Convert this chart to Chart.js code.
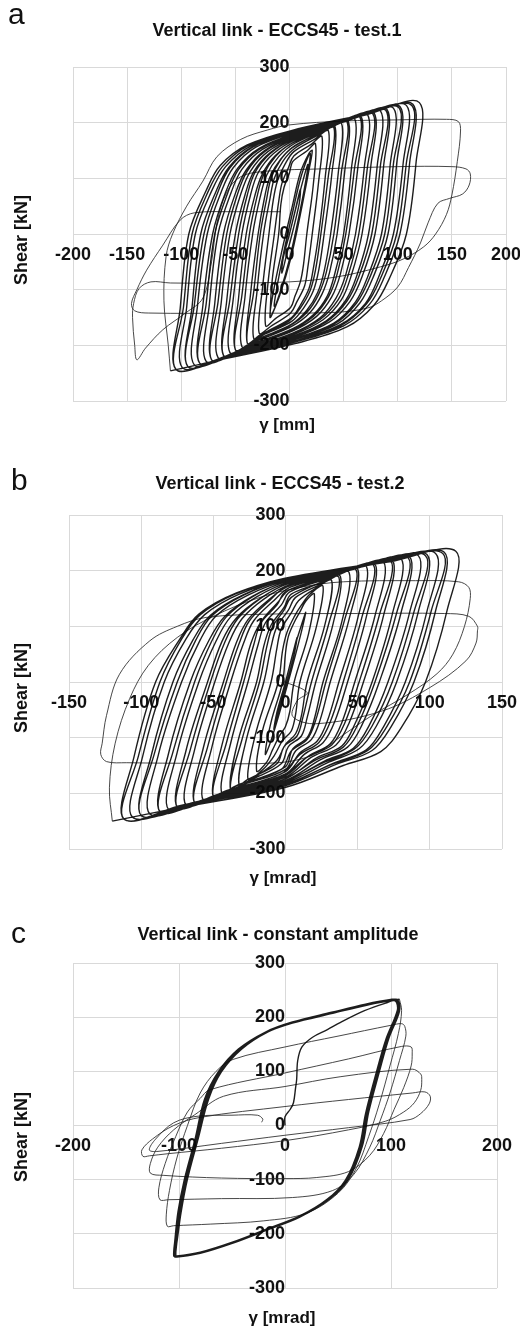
<!DOCTYPE html>
<html>
<head>
<meta charset="utf-8">
<script src="https://cdn.jsdelivr.net/npm/chart.js@4.4.1/dist/chart.umd.min.js"></script>
<style>
  body { margin: 0; background: #fff; width: 520px; height: 1330px; position: relative; overflow: hidden;
         font-family: "Liberation Sans", Arial, sans-serif; color: #111; }
  .panel { position: absolute; left: 0; width: 540px; }
  .panel canvas { position: absolute; left: 0; top: 0; }
  .letter { position: absolute; font-size: 30px; line-height: 1; }
  .lbl { position: absolute; font-weight: bold; line-height: 1; white-space: nowrap; transform: translate(-50%, -50%); }
  .title { font-size: 18px; }
  .xt { font-size: 17px; }
  .yt { font-size: 18px; transform: translate(-50%, -50%) rotate(-90deg); }
</style>
</head>
<body>
<div class="panel" style="top:0;height:440px"><canvas id="chartA" width="540" height="440"></canvas></div>
<div class="panel" style="top:440px;height:440px"><canvas id="chartB" width="540" height="440"></canvas></div>
<div class="panel" style="top:880px;height:450px"><canvas id="chartC" width="540" height="450"></canvas></div>

<div class="letter" style="left:8px;top:-1px">a</div>
<div class="lbl title" style="left:277px;top:30px">Vertical link - ECCS45 - test.1</div>
<div class="lbl yt" style="left:21px;top:240px">Shear [kN]</div>
<div class="lbl xt" style="left:287px;top:424px">γ [mm]</div>

<div class="letter" style="left:11px;top:465px">b</div>
<div class="lbl title" style="left:280px;top:483px">Vertical link - ECCS45 - test.2</div>
<div class="lbl yt" style="left:21px;top:688px">Shear [kN]</div>
<div class="lbl xt" style="left:283px;top:877px">γ [mrad]</div>

<div class="letter" style="left:11px;top:918px">c</div>
<div class="lbl title" style="left:278px;top:934px">Vertical link - constant amplitude</div>
<div class="lbl yt" style="left:21px;top:1137px">Shear [kN]</div>
<div class="lbl xt" style="left:282px;top:1317px">γ [mrad]</div>

<script>
// tick labels
const xTicksA = [-200, -150, -100, -50, 0, 50, 100, 150, 200];
const xTicksB = [-150, -100, -50, 0, 50, 100, 150];
const xTicksC = [-200, -100, 0, 100, 200];
const shearTicks = [-300, -200, -100, 0, 100, 200, 300];

// test.1 : [gamma mm, shear kN]
const t1Start = [[0,0],[5,40],[10,80],[9,55],[3,5],[-3,-40],[-7,-70],[-6,-45],[0,0],[7,55],[13,100],[17,125],[15,95],[8,25],[0,-45],[-8,-100],[-14,-130],[-12,-100],[-5,-30],[3,40],[11,105],[19,145],[17,110],[9,30],[0,-50],[-10,-115],[-18,-150],
  [-15,-105],[-7,-30],[2,45],[10,110],[18,145],[21,150],[18,115],[10,35],[1,-45],[-9,-110],[-17,-148],[-18,-150]];
const t1Cycles = [
  [-16,-83],[-10,0],[-8,53],[-5,84],[0,110],[3,130],[16,149],[24,162],
  [22,89],[16,0],[13,-54],[10,-86],[5,-112],[1,-132],[-13,-152],[-22,-165],
  [-20,-91],[-14,0],[-10,58],[-7,91],[-1,119],[4,140],[20,161],[30,175],
  [27,96],[21,0],[17,-59],[14,-93],[7,-121],[1,-142],[-16,-164],[-28,-178],
  [-25,-98],[-19,0],[-15,61],[-11,96],[-4,126],[4,148],[23,170],[36,185],
  [33,102],[27,0],[22,-62],[18,-98],[10,-128],[2,-150],[-19,-173],[-33,-188],
  [-30,-103],[-24,0],[-18,64],[-14,100],[-6,131],[5,154],[27,178],[42,193],
  [39,106],[32,0],[27,-65],[22,-102],[13,-133],[2,-157],[-23,-180],[-39,-196],
  [-33,-103],[-27,0],[-21,64],[-17,100],[-9,131],[2,154],[24,178],[41,191],
  [36,106],[29,0],[24,-65],[19,-102],[10,-133],[-1,-157],[-26,-180],[-39,-196],
  [-36,-108],[-29,0],[-23,66],[-18,103],[-8,135],[5,159],[31,183],[48,199],
  [45,109],[38,0],[32,-67],[26,-105],[16,-137],[2,-162],[-26,-186],[-44,-202],
  [-41,-111],[-34,0],[-27,67],[-21,106],[-10,139],[5,163],[34,188],[54,204],
  [51,112],[44,0],[37,-69],[30,-108],[19,-141],[2,-166],[-29,-191],[-50,-208],
  [-44,-111],[-37,0],[-30,67],[-24,106],[-13,139],[2,163],[31,188],[53,202],
  [48,112],[41,0],[34,-69],[27,-108],[16,-141],[-1,-166],[-32,-191],[-50,-208],
  [-47,-114],[-40,0],[-32,69],[-25,108],[-13,141],[5,166],[38,191],[60,208],
  [57,114],[50,0],[42,-70],[35,-111],[22,-145],[3,-170],[-32,-196],[-55,-213],
  [-52,-117],[-44,0],[-36,70],[-29,110],[-15,144],[6,170],[42,195],[66,212],
  [63,117],[55,0],[47,-72],[39,-113],[25,-148],[3,-174],[-36,-201],[-61,-218],
  [-55,-117],[-47,0],[-39,70],[-32,110],[-18,144],[3,170],[39,195],[65,210],
  [60,117],[52,0],[44,-72],[36,-113],[22,-148],[0,-174],[-39,-201],[-61,-218],
  [-58,-120],[-50,0],[-41,71],[-33,112],[-18,146],[6,172],[45,198],[72,215],
  [69,118],[61,0],[52,-73],[43,-115],[28,-151],[3,-178],[-38,-204],[-66,-222],
  [-63,-122],[-55,0],[-45,72],[-36,113],[-20,148],[6,174],[49,201],[78,218],
  [75,120],[67,0],[57,-75],[48,-118],[31,-154],[3,-181],[-42,-208],[-72,-226],
  [-66,-122],[-58,0],[-48,72],[-39,113],[-23,148],[3,174],[46,201],[77,216],
  [72,120],[64,0],[54,-75],[45,-118],[28,-154],[0,-181],[-45,-208],[-72,-226],
  [-69,-124],[-61,0],[-50,73],[-40,115],[-23,150],[6,177],[53,203],[84,221],
  [81,122],[73,0],[62,-76],[52,-119],[34,-156],[4,-183],[-45,-211],[-77,-229],
  [-74,-126],[-66,0],[-54,74],[-44,116],[-25,152],[7,179],[57,206],[90,224],
  [87,123],[79,0],[67,-77],[56,-121],[37,-158],[4,-186],[-48,-213],[-83,-232],
  [-77,-126],[-69,0],[-57,74],[-47,116],[-28,152],[4,179],[54,206],[89,222],
  [84,123],[76,0],[64,-77],[53,-121],[34,-158],[1,-186],[-51,-213],[-83,-232],
  [-80,-128],[-71,0],[-59,75],[-48,118],[-28,154],[7,181],[60,208],[96,226],
  [93,124],[85,0],[72,-78],[61,-122],[41,-160],[4,-188],[-51,-216],[-88,-235],
  [-85,-129],[-76,0],[-63,76],[-52,119],[-31,156],[7,183],[64,211],[102,229],
  [99,126],[91,0],[77,-79],[65,-124],[44,-162],[4,-190],[-55,-219],[-94,-238],
  [-88,-129],[-79,0],[-66,76],[-55,119],[-34,156],[4,183],[61,211],[101,227],
  [96,126],[88,0],[74,-79],[62,-124],[41,-162],[1,-190],[-58,-219],[-94,-238],
  [-90,-131],[-82,0],[-68,76],[-56,120],[-34,157],[7,185],[68,213],[108,231],
  [105,127],[96,0],[82,-79],[70,-125],[47,-163],[5,-192],[-58,-221],[-99,-240],
  [-95,-132],[-87,0],[-72,77],[-59,121],[-36,158],[8,186],[71,214],[114,233],
  [111,128],[102,0],[87,-80],[74,-126],[50,-165],[5,-194],[-61,-224],[-105,-243],
  [-98,-132],[-90,0],[-75,77],[-62,121],[-39,158],[5,186],[68,214],[113,231],
  [108,128],[99,0],[84,-80],[71,-126],[47,-165],[2,-194],[-64,-224],[-105,-243],
  [-101,-134],[-93,0],[-77,78],[-64,123],[-39,160],[8,189],[75,217],[120,236],
  [117,130],[108,0],[92,-81],[78,-128],[53,-167],[5,-197],[-64,-226],[-110,-246]
];
const t1Final = [
  [-110,-246],[-112,-200],[-116,-120],[-114,-40],[-108,0],[-95,50],[-80,95],[-67,139],[-45,170],[-20,187],[0,196],[50,203],[100,205],[145,206],[156,202],
  [158,185],[155,130],[150,70],[145,35],[135,0],[124,-23],[105,-45],[84,-59],[44,-77],[0,-86],[-60,-88],[-110,-88],[-128,-86],[-139,-98],[-144,-125],[-145,-150],[-143,-200],[-141,-226],
  [-133,-205],[-117,-172],[-96,-142],[-80,-115],[-72,-50],[-67,20],[-58,75],[-45,103],[-20,113],[30,117],[100,121],[150,121],[163,117],[167,108],
  [166,88],[160,72],[148,64],[137,55],[128,20],[121,-16],[110,-60],[100,-95],[85,-120],[72,-133],[40,-141],[-50,-142],[-130,-142],[-143,-138],[-146,-125],[-141,-100],[-132,-65],[-117,-20],[-101,25],[-88,38],[-50,40],[-8,40]
];

// test.2 : [gamma mrad, shear kN]
const t2Start = [[0,0],[4,40],[8,80],[6,50],[1,0],[-4,-45],[-8,-85],[-6,-55],[0,0],[6,60],[12,110],[14,125],[11,90],[4,20],[-3,-45],[-10,-105],[-14,-130]];
const t2Cycles = [
  [-10,-72],[-2,0],[0,52],[2,82],[6,107],[10,126],[14,145],[20,158],
  [16,87],[6,0],[3,-53],[0,-80],[-4,-96],[-9,-122],[-13,-144],[-20,-160],
  [-16,-88],[-5,0],[-2,57],[1,89],[6,117],[11,138],[17,158],[26,172],
  [21,95],[10,0],[7,-58],[4,-88],[-2,-105],[-8,-133],[-16,-158],[-26,-175],
  [-21,-96],[-10,0],[-6,60],[-3,95],[4,124],[9,146],[20,167],[32,182],
  [27,100],[15,0],[11,-61],[7,-93],[0,-112],[-6,-141],[-19,-167],[-32,-186],
  [-27,-102],[-15,0],[-10,63],[-6,99],[2,129],[7,152],[24,175],[38,190],
  [33,105],[21,0],[15,-64],[11,-97],[2,-116],[-3,-147],[-23,-175],[-38,-194],
  [-30,-102],[-18,0],[-13,63],[-9,99],[-1,129],[4,152],[21,175],[37,188],
  [30,105],[18,0],[12,-64],[8,-97],[-1,-116],[-6,-147],[-26,-175],[-38,-194],
  [-33,-107],[-20,0],[-15,65],[-10,102],[-1,134],[4,158],[28,181],[44,197],
  [39,108],[26,0],[20,-66],[15,-100],[5,-120],[0,-152],[-26,-180],[-44,-200],
  [-38,-110],[-26,0],[-19,67],[-14,106],[-3,138],[3,162],[31,187],[50,203],
  [44,112],[31,0],[24,-68],[18,-103],[7,-124],[0,-157],[-30,-185],[-50,-206],
  [-41,-110],[-29,0],[-22,67],[-17,106],[-6,138],[0,162],[28,187],[49,201],
  [41,112],[28,0],[21,-68],[15,-103],[4,-124],[-3,-157],[-33,-185],[-50,-206],
  [-44,-113],[-31,0],[-24,69],[-17,108],[-6,141],[3,166],[35,191],[56,208],
  [50,114],[37,0],[29,-70],[22,-106],[10,-127],[0,-161],[-34,-191],[-57,-212],
  [-51,-117],[-38,0],[-29,70],[-22,110],[-9,144],[3,170],[38,195],[62,212],
  [56,117],[43,0],[34,-72],[26,-109],[13,-130],[0,-165],[-38,-195],[-63,-217],
  [-54,-117],[-41,0],[-32,70],[-25,110],[-12,144],[0,170],[35,195],[61,210],
  [53,117],[40,0],[31,-72],[23,-109],[10,-130],[-3,-165],[-41,-195],[-63,-217],
  [-57,-119],[-43,0],[-34,71],[-26,112],[-12,147],[3,173],[42,199],[68,216],
  [62,119],[48,0],[39,-73],[31,-111],[16,-133],[0,-168],[-42,-199],[-69,-221],
  [-63,-122],[-49,0],[-39,72],[-30,114],[-15,149],[3,175],[45,201],[74,219],
  [68,120],[54,0],[44,-74],[35,-113],[18,-135],[0,-171],[-45,-203],[-75,-225],
  [-66,-122],[-52,0],[-42,72],[-33,114],[-18,149],[0,175],[42,201],[73,217],
  [65,120],[51,0],[41,-74],[32,-113],[15,-135],[-3,-171],[-48,-203],[-75,-225],
  [-69,-124],[-54,0],[-44,73],[-34,115],[-17,151],[3,178],[49,204],[80,222],
  [74,122],[60,0],[48,-76],[39,-115],[21,-137],[0,-174],[-49,-206],[-81,-229],
  [-75,-126],[-60,0],[-48,74],[-38,117],[-20,153],[3,180],[53,207],[86,225],
  [80,124],[65,0],[53,-77],[43,-117],[24,-140],[0,-177],[-52,-210],[-87,-233],
  [-78,-126],[-63,0],[-51,74],[-41,117],[-23,153],[0,180],[50,207],[85,223],
  [77,124],[62,0],[50,-77],[40,-117],[21,-140],[-3,-177],[-55,-210],[-87,-233],
  [-81,-128],[-66,0],[-53,75],[-42,118],[-23,154],[3,182],[56,209],[92,227],
  [86,125],[71,0],[58,-78],[47,-119],[27,-142],[-1,-180],[-57,-213],[-94,-237],
  [-88,-130],[-72,0],[-59,76],[-48,119],[-26,156],[2,183],[60,211],[98,229],
  [92,126],[77,0],[63,-79],[51,-120],[30,-144],[-1,-182],[-60,-216],[-100,-240],
  [-91,-130],[-75,0],[-62,76],[-51,119],[-29,156],[-1,183],[57,211],[97,227],
  [89,126],[74,0],[60,-79],[48,-120],[27,-144],[-4,-182],[-63,-216],[-100,-240],
  [-93,-132],[-78,0],[-64,76],[-52,120],[-29,157],[2,185],[63,213],[104,231],
  [98,127],[83,0],[68,-80],[56,-122],[33,-146],[-1,-185],[-64,-219],[-106,-243],
  [-99,-134],[-84,0],[-69,77],[-56,121],[-32,158],[2,186],[67,214],[110,233],
  [104,128],[89,0],[73,-81],[60,-123],[35,-148],[-1,-187],[-68,-221],[-112,-246],
  [-102,-134],[-87,0],[-72,77],[-59,121],[-35,158],[-1,186],[64,214],[109,231],
  [101,128],[86,0],[70,-81],[57,-123],[32,-148],[-4,-187],[-71,-221],[-112,-246],
  [-105,-135],[-90,0],[-73,78],[-60,122],[-34,160],[3,188],[72,216],[118,235],
  [112,129],[97,0],[80,-83],[66,-125],[40,-150],[-1,-190],[-72,-225],[-120,-250]
];
const t2Final = [
  [-120,-250],[-122,-190],[-118,-110],[-108,-30],[-95,30],[-75,80],[-50,118],[-20,150],[10,170],[40,180],[90,182],[120,180],[127,170],
  [128,150],[124,100],[116,50],[105,15],[85,-22],[60,-60],[40,-95],[20,-130],[-5,-145],[-60,-146],[-110,-145],[-124,-143],[-128,-130],[-127,-110],
  [-124,-60],[-115,14],[-94,74],[-75,100],[-55,116],[-11,122],[50,123],[110,123],[127,118],[133,100],[133,92],
  [132,70],[125,38],[100,-10],[67,-52],[21,-75],[5,-62],[8,-34],[15,-19],[-2,2]
];

// constant amplitude : [gamma mrad, shear kN]
const t3Start = [[0,0],[0,16],[5,30],[8,42],[10,70],[11,85],[12,120],[16,145],[26,163],[40,177],[52,190],[75,212],[95,226],[104,230],
  [106,212],[96,159],[87,98],[77,24],[71,-39],[58,-100],[40,-137],[14,-168],[-17,-192],[-49,-216],[-80,-235],[-102,-242],[-104,-240]];
const t3Cycles = [
  [-103,-215],[-99,-161],[-93,-100],[-83,-26],[-74,48],[-61,98],[-42,140],[-17,172],[8,190],[45,208],[77,223],[102,232],[106,231],
  [107,212],[97,160],[88,98],[78,24],[72,-39],[59,-100],[41,-137],[14,-169],[-17,-193],[-49,-217],[-80,-236],[-103,-243],[-105,-240],
  [-104,-214],[-101,-160],[-95,-100],[-85,-26],[-76,48],[-63,99],[-44,141],[-18,173],[7,191],[44,209],[76,224],[101,233],[105,232],
  [106,213],[95,158],[86,97],[76,22],[70,-40],[57,-101],[39,-138],[13,-169],[-18,-193],[-50,-217],[-81,-236],[-102,-243],[-104,-241],
  [-102,-216],[-98,-160],[-92,-99],[-82,-25],[-72,49],[-60,99],[-41,141],[-16,173],[9,191],[46,209],[78,224],[103,233],[107,231],
  [108,211],[98,161],[89,99],[79,25],[73,-38],[60,-99],[42,-136],[15,-167],[-16,-191],[-48,-215],[-79,-234],[-101,-242],[-103,-240],
  [-102,-215],[-100,-162],[-94,-101],[-84,-27],[-75,47],[-62,97],[-43,139],[-18,171],[7,189],[45,207],[77,222],[102,231],[106,230],
  [107,214],[96,160],[87,99],[77,23],[71,-38],[58,-99],[40,-136],[14,-167],[-17,-191],[-49,-215],[-80,-234],[-102,-241],[-104,-239],
  [-103,-214],[-99,-160],[-93,-99],[-83,-25],[-73,49],[-61,99],[-42,141],[-17,173],[8,191],[45,209],[77,224],[102,233],[106,232],
  [107,213],[97,159],[88,98],[78,24],[72,-39],[59,-100],[41,-137],[14,-168],[-17,-192],[-49,-216],[-80,-235],[-103,-242],[-105,-241],
  [-104,-216],[-100,-161],[-94,-100],[-84,-26],[-75,48],[-62,98],[-43,140],[-18,172],[8,190],[45,208],[77,223],[103,232],[108,233]
];
const t3Final = [
  [108,233],[110,212],[107,170],[99,110],[89,40],[79,-20],[67,-80],[50,-125],[20,-162],[-20,-176],[-70,-182],[-105,-185],[-111,-186],
  [-112,-165],[-109,-120],[-102,-60],[-92,0],[-80,60],[-65,100],[-49,122],[0,145],[50,165],[100,185],[110,188],[113,183],
  [114,165],[108,120],[99,60],[90,10],[80,-40],[65,-90],[45,-120],[7,-133],[-60,-135],[-110,-137],[-118,-137],
  [-119,-115],[-113,-70],[-103,-20],[-92,25],[-80,50],[-71,66],[0,97],[60,123],[110,146],[119,145],[120,134],
  [119,110],[112,70],[103,30],[93,-15],[80,-55],[60,-85],[30,-96],[0,-98],[-60,-97],[-115,-92],[-127,-88],
  [-127,-70],[-120,-40],[-105,-8],[-85,20],[-58,54],[0,72],[52,90],[120,104],[128,95],[129,85],
  [128,65],[122,42],[112,25],[95,8],[60,-8],[0,-28],[-60,-42],[-110,-52],[-128,-56],[-134,-57],
  [-135,-45],[-125,-25],[-105,0],[-80,15],[0,35],[60,48],[120,60],[132,62],[137,54],
  [136,40],[128,22],[118,11],[60,-4],[0,-18],[-60,-33],[-121,-48],[-128,-45],[-122,-25],[-105,5],[-83,17],[-50,19],[-26,19],[-21,12],[-22,6]
];

const tickFont = { family: "'Liberation Sans', Arial, sans-serif", size: 18, weight: "bold" };

function toPoints(list) {
  return list.map((p) => ({ x: p[0], y: p[1] }));
}

function drawPanel(id, ticksX, pad, main, last) {
  const ctx = document.getElementById(id);
  return new Chart(ctx, {
    type: "scatter",
    data: {
      datasets: [
        { data: toPoints(main), showLine: true, borderColor: "rgba(10,10,10,0.92)", borderWidth: 1.4, pointRadius: 0, tension: 0.35 },
        { data: toPoints(last), showLine: true, borderColor: "rgba(40,40,40,0.85)", borderWidth: 1, pointRadius: 0, tension: 0.35 },
      ],
    },
    options: {
      responsive: false,
      animation: false,
      events: [],
      layout: { padding: pad },
      plugins: { legend: { display: false }, tooltip: { enabled: false } },
      scales: {
        x: {
          type: "linear",
          position: { y: 0 },
          min: ticksX[0],
          max: ticksX[ticksX.length - 1],
          afterBuildTicks: (axis) => {
            axis.ticks = ticksX.map((v) => ({ value: v }));
          },
          grid: { color: "#d9d9d9", drawTicks: false },
          border: { display: false },
          ticks: { padding: 10, autoSkip: false, maxRotation: 0, color: "#111", font: tickFont },
        },
        y: {
          type: "linear",
          position: { x: 0 },
          min: shearTicks[0],
          max: shearTicks[shearTicks.length - 1],
          afterBuildTicks: (axis) => {
            axis.ticks = shearTicks.map((v) => ({ value: v }));
          },
          grid: { color: "#d9d9d9", drawTicks: false },
          border: { display: false },
          ticks: { padding: 17, autoSkip: false, color: "#111", font: tickFont },
        },
      },
    },
  });
}

// canvases are 540 wide so the right padding the library wants still leaves the plot edge where the figure has it
drawPanel("chartA", xTicksA, { left: 73, right: 34, top: 67, bottom: 39 }, t1Start.concat(t1Cycles), t1Final);
drawPanel("chartB", xTicksB, { left: 69, right: 38, top: 75, bottom: 31 }, t2Start.concat(t2Cycles), t2Final);
drawPanel("chartC", xTicksC, { left: 73, right: 43, top: 83, bottom: 42 }, t3Start.concat(t3Cycles), t3Final);
</script>
</body>
</html>
